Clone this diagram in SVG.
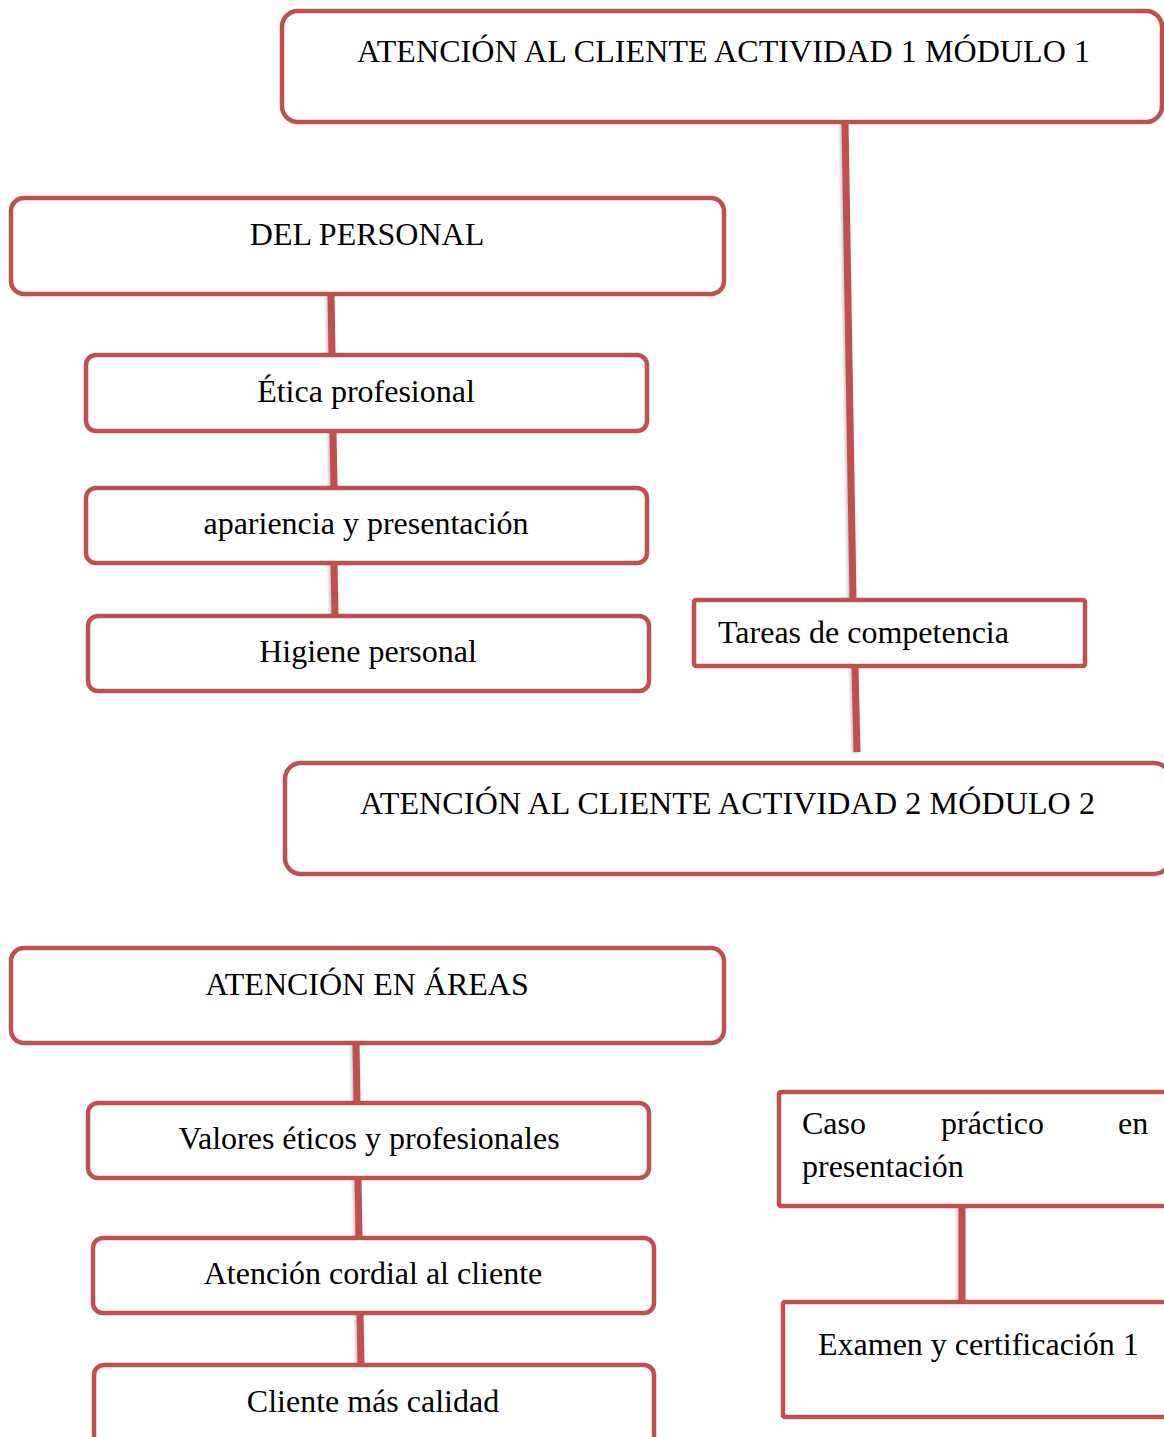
<svg xmlns="http://www.w3.org/2000/svg" width="1164" height="1437" viewBox="0 0 1164 1437">
  <style>
    .box { fill: #ffffff; stroke: #C0504D; stroke-width: 4.5; }
    .link { stroke: #C0504D; stroke-width: 7; fill: none; }
    .t { font-family: "Liberation Serif", "Times New Roman", serif; font-size: 32px; fill: #000000; }
    .c { text-anchor: middle; }
  </style>
  <defs>
    <filter id="soft" x="-50%" y="-5%" width="200%" height="110%">
      <feDropShadow dx="-1.5" dy="1" stdDeviation="1.5" flood-color="#808080" flood-opacity="0.5"/>
    </filter>
  </defs>
  <rect width="1164" height="1437" fill="#ffffff"/>

  <!-- connectors -->
  <g id="connectors" filter="url(#soft)">
    <line class="link" x1="845" y1="122" x2="853" y2="599"/>
    <line class="link" x1="855" y1="667" x2="857" y2="752"/>
    <line class="link" x1="331" y1="294" x2="332" y2="355"/>
    <line class="link" x1="333" y1="431" x2="334" y2="488"/>
    <line class="link" x1="334" y1="563" x2="335" y2="616"/>
    <line class="link" x1="356" y1="1043" x2="357" y2="1103"/>
    <line class="link" x1="358" y1="1178" x2="359" y2="1238"/>
    <line class="link" x1="360" y1="1313" x2="361" y2="1365"/>
    <line class="link" x1="962" y1="1206" x2="962" y2="1314"/>
  </g>

  <!-- module 1 -->
  <g id="modulo1">
    <rect class="box" x="282" y="11" width="880" height="111" rx="16"/>
    <text class="t" x="357" y="62" textLength="733" lengthAdjust="spacing">ATENCIÓN AL CLIENTE ACTIVIDAD 1 MÓDULO 1</text>
  </g>

  <g id="del-personal">
    <rect class="box" x="11" y="198" width="713" height="96" rx="13"/>
    <text class="t c" x="367" y="245">DEL PERSONAL</text>
  </g>

  <g id="etica">
    <rect class="box" x="86" y="355" width="561" height="76" rx="10"/>
    <text class="t c" x="366" y="402">Ética profesional</text>
  </g>

  <g id="apariencia">
    <rect class="box" x="86" y="488" width="561" height="75" rx="10"/>
    <text class="t c" x="366" y="534">apariencia y presentación</text>
  </g>

  <g id="higiene">
    <rect class="box" x="88" y="616" width="561" height="75" rx="10"/>
    <text class="t c" x="368" y="662">Higiene personal</text>
  </g>

  <g id="tareas">
    <rect class="box" x="694" y="600" width="391" height="66" rx="2"/>
    <text class="t" x="718" y="643">Tareas de competencia</text>
  </g>

  <!-- module 2 -->
  <g id="modulo2">
    <rect class="box" x="285" y="763" width="885" height="111" rx="16"/>
    <text class="t" x="360" y="814" textLength="735" lengthAdjust="spacing">ATENCIÓN AL CLIENTE ACTIVIDAD 2 MÓDULO 2</text>
  </g>

  <g id="atencion-areas">
    <rect class="box" x="11" y="948" width="713" height="95" rx="13"/>
    <text class="t c" x="367" y="995">ATENCIÓN EN ÁREAS</text>
  </g>

  <g id="valores">
    <rect class="box" x="88" y="1103" width="561" height="75" rx="10"/>
    <text class="t c" x="369" y="1149">Valores éticos y profesionales</text>
  </g>

  <g id="cordial">
    <rect class="box" x="93" y="1238" width="561" height="75" rx="10"/>
    <text class="t c" x="373" y="1284">Atención cordial al cliente</text>
  </g>

  <g id="calidad">
    <rect class="box" x="94" y="1365" width="560" height="90" rx="10"/>
    <text class="t c" x="373" y="1412">Cliente más calidad</text>
  </g>

  <g id="caso">
    <rect class="box" x="779" y="1092" width="400" height="114" rx="2"/>
    <text class="t" y="1134"><tspan x="802">Caso</tspan><tspan x="941">práctico</tspan><tspan x="1118">en</tspan></text>
    <text class="t" x="802" y="1177">presentación</text>
  </g>

  <g id="examen">
    <rect class="box" x="783" y="1302" width="400" height="115" rx="2"/>
    <text class="t" x="818" y="1355">Examen y certificación 1</text>
  </g>
</svg>
